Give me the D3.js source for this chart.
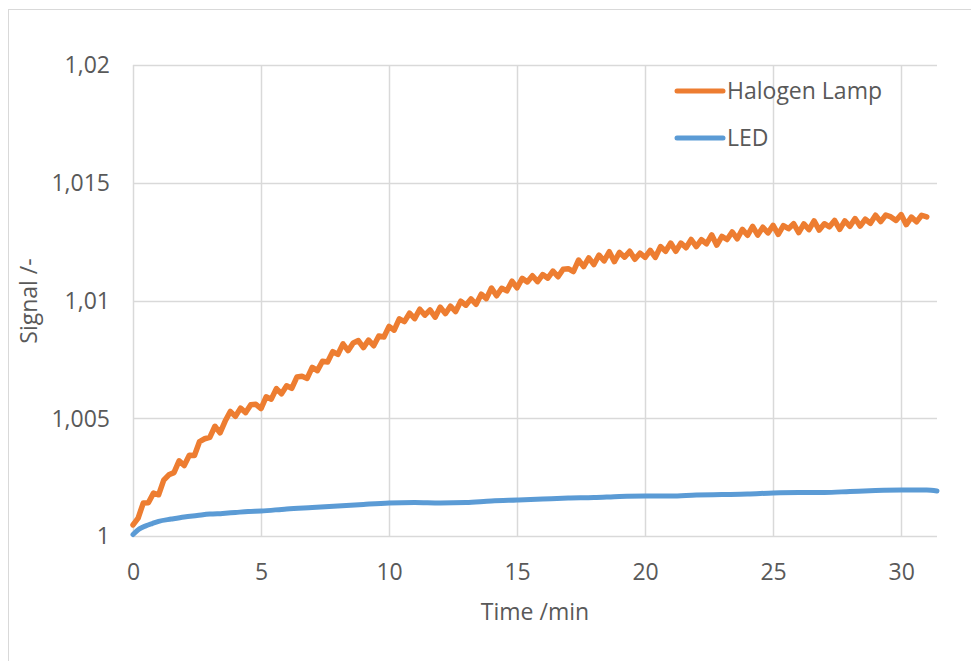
<!DOCTYPE html>
<html>
<head>
<meta charset="utf-8">
<script src="https://cdn.jsdelivr.net/npm/d3@7"></script>
<style>
  html, body { margin: 0; padding: 0; background: #fff; }
  svg { display: block; font-family: "Open Sans", "Noto Sans", sans-serif; }
</style>
</head>
<body>
<svg id="chart" width="971" height="661"></svg>
<script>
// ---- data ----
const xTicks = [0, 5, 10, 15, 20, 25, 30];
const yTicks = [1, 1.005, 1.01, 1.015, 1.02];
const yTickLabels = ["1", "1,005", "1,01", "1,015", "1,02"];
const seriesNames = ["Halogen Lamp", "LED"];

// Halogen lamp: sampled every 0.2 min from 0 to 31 min
const halogenStep = 0.2;
const halogenSignal = [
  1.00047, 1.00076, 1.00140, 1.00141, 1.00182, 1.00175, 1.00237, 1.00260, 1.00269, 1.00319,
  1.00299, 1.00343, 1.00342, 1.00401, 1.00413, 1.00419, 1.00466, 1.00438, 1.00488, 1.00529,
  1.00508, 1.00543, 1.00524, 1.00557, 1.00559, 1.00541, 1.00591, 1.00581, 1.00626, 1.00604,
  1.00638, 1.00627, 1.00675, 1.00678, 1.00669, 1.00716, 1.00702, 1.00742, 1.00739, 1.00783,
  1.00771, 1.00816, 1.00787, 1.00820, 1.00830, 1.00800, 1.00832, 1.00808, 1.00849, 1.00845,
  1.00890, 1.00874, 1.00922, 1.00910, 1.00946, 1.00923, 1.00963, 1.00938, 1.00960, 1.00929,
  1.00972, 1.00944, 1.00976, 1.00953, 1.00997, 1.00980, 1.01007, 1.00984, 1.01027, 1.01008,
  1.01053, 1.01020, 1.01052, 1.01041, 1.01082, 1.01054, 1.01094, 1.01079, 1.01105, 1.01080,
  1.01110, 1.01095, 1.01125, 1.01101, 1.01133, 1.01135, 1.01123, 1.01172, 1.01144, 1.01181,
  1.01153, 1.01193, 1.01168, 1.01207, 1.01165, 1.01204, 1.01184, 1.01209, 1.01175, 1.01201,
  1.01183, 1.01213, 1.01183, 1.01229, 1.01209, 1.01244, 1.01209, 1.01244, 1.01224, 1.01259,
  1.01229, 1.01258, 1.01241, 1.01279, 1.01235, 1.01272, 1.01259, 1.01291, 1.01262, 1.01302,
  1.01277, 1.01315, 1.01278, 1.01311, 1.01287, 1.01319, 1.01281, 1.01318, 1.01305, 1.01326,
  1.01288, 1.01325, 1.01301, 1.01338, 1.01299, 1.01326, 1.01313, 1.01340, 1.01302, 1.01338,
  1.01315, 1.01348, 1.01316, 1.01345, 1.01328, 1.01362, 1.01335, 1.01363, 1.01355, 1.01340,
  1.01365, 1.01322, 1.01354, 1.01334, 1.01362, 1.01355
];

// LED
const ledTime = [0, 0.25, 0.5, 0.75, 1, 1.5, 2, 2.5, 3, 3.5, 4, 4.5, 5, 6, 7, 8, 9, 10,
  11, 12, 13, 14, 15, 16, 17, 18, 19, 20, 21, 22, 23, 24, 25, 26, 27, 28, 29, 30, 31, 31.4];
const ledSignal = [1.00006, 1.00030, 1.00043, 1.00053, 1.00062, 1.00072, 1.00081, 1.00087,
  1.00093, 1.00096, 1.00100, 1.00104, 1.00106, 1.00115, 1.00121, 1.00127, 1.00134, 1.00140,
  1.00142, 1.00140, 1.00142, 1.00149, 1.00153, 1.00157, 1.00161, 1.00163, 1.00168, 1.00170,
  1.00170, 1.00174, 1.00176, 1.00178, 1.00183, 1.00185, 1.00185, 1.00189, 1.00193, 1.00195,
  1.00195, 1.00191];

const colors = ["#ED7D31", "#5B9BD5"];

// ---- chart ----
const svg = d3.select("#chart");
const textColor = "#595959";
const gridColor = "#d9d9d9";

// outer chart border
svg.append("rect").attr("x", 8.5).attr("y", 9.5).attr("width", 1000).attr("height", 1000)
  .attr("fill", "#fff").attr("stroke", gridColor).attr("stroke-width", 1);

const x = d3.scaleLinear().domain([0, 31.4]).range([133, 937]);
const y = d3.scaleLinear().domain([1, 1.02]).range([536, 65]);

// gridlines
const g = svg.append("g");
g.selectAll(".hg").data(yTicks).join("line")
  .attr("x1", x(0)).attr("x2", x(31.4))
  .attr("y1", d => Math.round(y(d)) + 0.5).attr("y2", d => Math.round(y(d)) + 0.5)
  .attr("stroke", gridColor).attr("stroke-width", 1.5);
g.selectAll(".vg").data(xTicks).join("line")
  .attr("x1", d => Math.round(x(d)) + 0.5).attr("x2", d => Math.round(x(d)) + 0.5)
  .attr("y1", y(1.02)).attr("y2", y(1))
  .attr("stroke", gridColor).attr("stroke-width", 1.5);

// axes (labels only)
const xAxis = d3.axisBottom(x).tickValues(xTicks).tickSize(0).tickPadding(0).tickFormat(d => String(d));
const xa = svg.append("g").attr("transform", `translate(0,${y(1)})`).call(xAxis);
xa.select(".domain").remove();
xa.selectAll("text").attr("fill", textColor).attr("font-size", 23)
  .attr("font-family", "'Open Sans', sans-serif")
  .attr("dy", null).attr("y", 44);

const yAxis = d3.axisLeft(y).tickValues(yTicks).tickSize(0).tickPadding(0)
  .tickFormat((d, i) => yTickLabels[i]);
const ya = svg.append("g").attr("transform", `translate(110,0)`).call(yAxis);
ya.select(".domain").remove();
ya.selectAll("text").attr("fill", textColor).attr("font-size", 23)
  .attr("font-family", "'Open Sans', sans-serif").attr("x", 0).attr("dy", "0.34em");

// axis titles
svg.append("text").attr("x", 535).attr("y", 612).attr("dy", "0.35em")
  .attr("text-anchor", "middle").attr("fill", textColor).attr("font-size", 23)
  .text("Time /min");
svg.append("text").attr("transform", "translate(29,301) rotate(-90)")
  .attr("dy", "0.35em").attr("text-anchor", "middle").attr("fill", textColor)
  .attr("font-size", 23).text("Signal /-");

// lines
const halogenData = halogenSignal.map((v, i) => [i * halogenStep, v]);
const ledData = ledTime.map((t, i) => [t, ledSignal[i]]);

svg.append("path").datum(ledData)
  .attr("d", d3.line().x(d => x(d[0])).y(d => y(d[1])).curve(d3.curveMonotoneX))
  .attr("fill", "none").attr("stroke", colors[1]).attr("stroke-width", 5)
  .attr("stroke-linejoin", "round").attr("stroke-linecap", "round");
svg.append("path").datum(halogenData)
  .attr("d", d3.line().x(d => x(d[0])).y(d => y(d[1])))
  .attr("fill", "none").attr("stroke", colors[0]).attr("stroke-width", 5.5)
  .attr("stroke-linejoin", "round").attr("stroke-linecap", "round");

// legend
const legendY = [91, 138];
const lg = svg.append("g");
seriesNames.forEach((name, i) => {
  lg.append("line").attr("x1", 677).attr("x2", 723).attr("y1", legendY[i]).attr("y2", legendY[i])
    .attr("stroke", colors[i]).attr("stroke-width", 5).attr("stroke-linecap", "round");
  lg.append("text").attr("x", 727).attr("y", legendY[i]).attr("dy", "0.35em")
    .attr("fill", textColor).attr("font-size", 23).text(name);
});
</script>
</body>
</html>
